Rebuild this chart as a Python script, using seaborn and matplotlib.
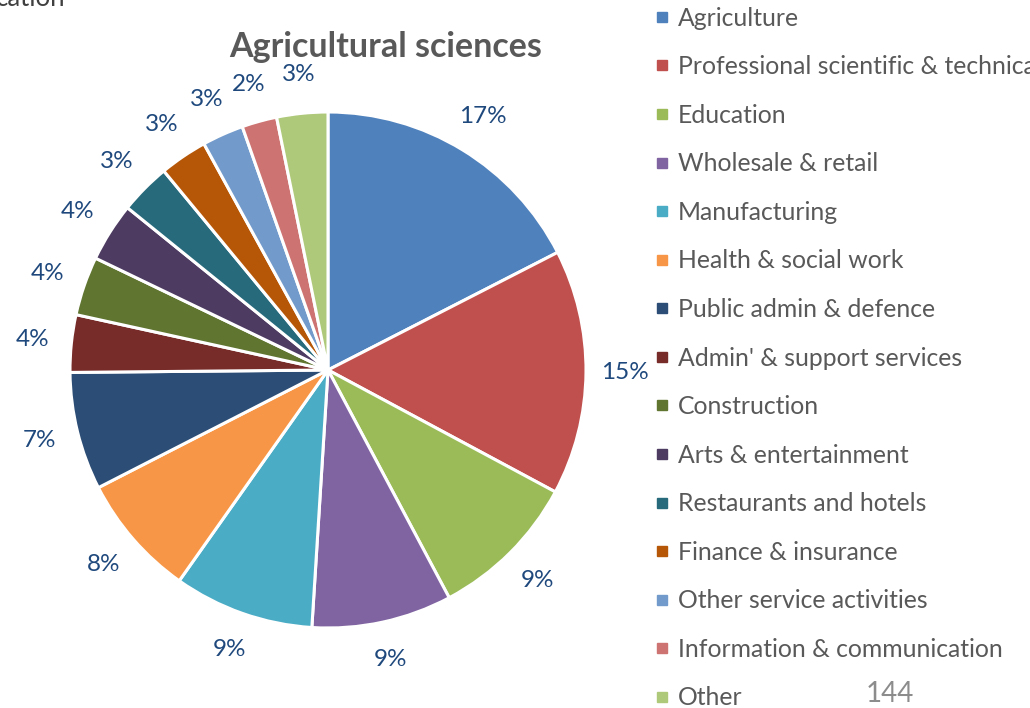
import matplotlib
matplotlib.use("Agg")
import matplotlib.pyplot as plt
from matplotlib.lines import Line2D
import seaborn as sns

categories = ["Agriculture", "Professional scientific & technical", "Education",
              "Wholesale & retail", "Manufacturing", "Health & social work",
              "Public admin & defence", "Admin' & support services", "Construction",
              "Arts & entertainment", "Restaurants and hotels", "Finance & insurance",
              "Other service activities", "Information & communication", "Other"]
shares = [17.5, 15.4, 9.4, 8.8, 8.8, 7.7, 7.4, 3.6, 3.7, 3.7, 3.2, 3.0, 2.6, 2.2, 3.2]
pct_labels = ["17%", "15%", "9%", "9%", "9%", "8%", "7%", "4%", "4%", "4%",
              "3%", "3%", "3%", "2%", "3%"]
colors_hex = ["#4F81BD", "#C0504D", "#9BBB59", "#8064A2", "#4BACC6", "#F79646",
              "#2C4D75", "#772C2A", "#5F7530", "#4D3B62", "#276A7C", "#B65708",
              "#729ACA", "#CD7371", "#AFC97A"]
title = "Agricultural sciences"

sns.set_style("white")
plt.rcParams['font.family'] = ['Lato', 'DejaVu Sans']
palette = sns.color_palette(colors_hex)

W, H = 1030, 708
fig = plt.figure(figsize=(W / 100, H / 100), dpi=100)
cx, cy, r = 328, 370, 258
lim = 1.25
ax = fig.add_axes([(cx - lim * r) / W, (H - cy - lim * r) / H, 2 * lim * r / W, 2 * lim * r / H])
wedges, texts = ax.pie(shares, labels=pct_labels, colors=palette, startangle=90,
                       counterclock=False, labeldistance=1.15,
                       wedgeprops=dict(edgecolor="white", linewidth=2.2),
                       textprops=dict(color="#1F497D", fontsize=17.5))
for t in texts:
    t.set_ha("center")
    t.set_va("center")
ax.set_xlim(-lim, lim)
ax.set_ylim(-lim, lim)
ax.set_aspect("auto")
ax.axis("off")

fig.text(386 / W, 1 - 47 / H, title, ha="center", va="center", fontsize=24.5,
         fontweight="bold", color="#595959")
fig.text(-0.004, 1 + 1 / H, "cation", ha="left", va="center", fontsize=18.5, color="#404040")
fig.text(890 / W, 1 - 694 / H, "144", ha="center", va="center", fontsize=20, color="#8C8C8C")

handles = [Line2D([], [], marker="s", linestyle="none", markersize=6.5,
                  markerfacecolor=c, markeredgecolor=c) for c in palette]
leg = fig.legend(handles, categories, loc="upper left", bbox_to_anchor=(646 / W, 1 + 3.3 / H),
                 frameon=False, fontsize=17.8, handlelength=0.5, handletextpad=0.39,
                 labelspacing=1.034, borderaxespad=0)
for t in leg.get_texts():
    t.set_color("#595959")

fig.savefig("out.png", dpi=100)
